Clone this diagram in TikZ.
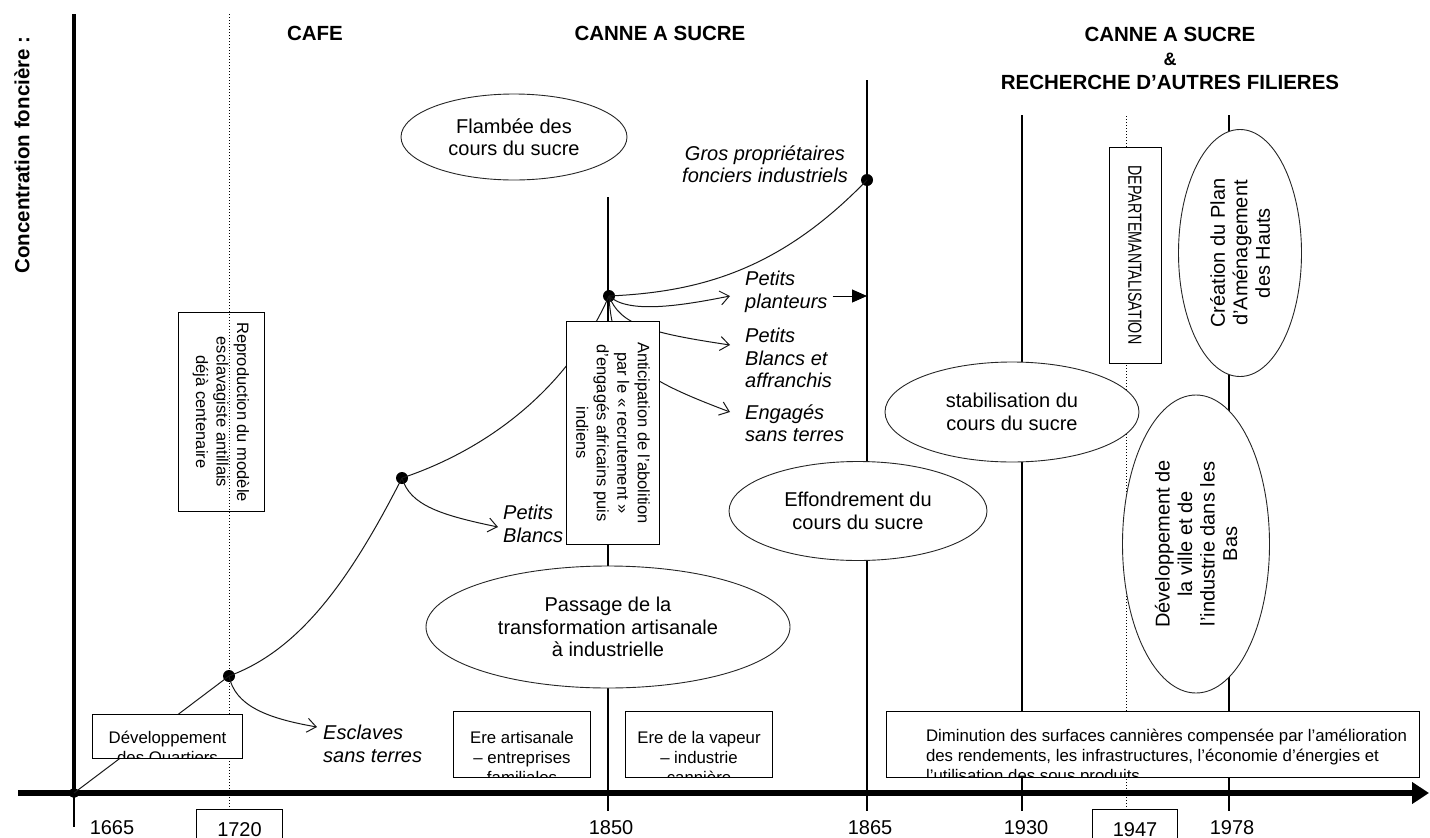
\documentclass[tikz,border=0pt]{standalone}
\usepackage{fontspec}
\setmainfont{Liberation Sans}
\usetikzlibrary{shapes.geometric,arrows.meta}
\begin{document}
\begin{tikzpicture}[x=1pt,y=-1pt,
  body/.style={font=\fontsize{20}{22.5}\selectfont},
  boxfont/.style={font=\fontsize{16.8}{20}\selectfont},
  sidefont/.style={font=\fontsize{16.5}{20.5}\selectfont},
  heading/.style={font=\fontsize{20.5}{24}\selectfont\bfseries, align=center, inner sep=0},
  oval/.style={ellipse, draw=black!85, line width=0.9pt, fill=white, inner sep=0, align=center, body},
  frame/.style={draw, line width=1pt, inner sep=0},
  outcome/.style={font=\fontsize{20}{22.5}\selectfont\itshape, align=left, inner sep=0, anchor=west},
  period/.style={line width=1.3pt},
  marked/.style={line width=1pt, dash pattern=on 1pt off 2pt},
  trend/.style={line width=1pt, black!90},
  branch/.style={trend, -{Straight Barb[length=9pt, width=14pt, line width=1pt]}},
  marker/.style={circle, fill, inner sep=0, minimum size=12pt},
  year/.style={body, inner sep=0},
]
\useasboundingbox (0,0) rectangle (1430,838);

% ---- axes ----
\coordinate (xstart) at (18,793);
\coordinate (xend) at (1429,793);
\coordinate (ytop) at (74,14);
\coordinate (ybot) at (74,796);
\coordinate (tick1665) at (74,827);
\draw[line width=5.5pt, -{Triangle[length=17pt,width=21pt]}] (xstart) -- (xend);
\draw[line width=4.5pt] (ytop) -- (ybot);
\draw[period] (ybot) -- (tick1665);

% ---- year labels ----
\node[year] (y1665) at (112,828) {1665};
\node[frame, year, anchor=north west, minimum width=86, minimum height=40] (box1720) at (196,809) {1720};
\node[year] (y1850) at (611,828) {1850};
\node[year] (y1865) at (870,828) {1865};
\node[year] (y1930) at (1026,828) {1930};
\node[frame, year, anchor=north west, minimum width=85, minimum height=40] (box1947) at (1092,809) {1947};
\node[year] (y1978) at (1232,828) {1978};

% ---- period lines ----
\coordinate (t1720) at (229,14);
\coordinate (t1850) at (608,197);  \coordinate (b1850) at (608,811);
\coordinate (t1865) at (867,80);   \coordinate (b1865) at (867,811);
\coordinate (t1930) at (1022,115); \coordinate (b1930) at (1022,811);
\coordinate (t1947) at (1126,116);
\coordinate (t1978) at (1229,115); \coordinate (b1978) at (1229,811);
\draw[marked] (t1720) -- (t1720 |- box1720.north);
\draw[marked] (t1947) -- (t1947 |- box1947.north);
\draw[period] (t1850) -- (b1850);
\draw[period] (t1865) -- (b1865);
\draw[period] (t1930) -- (b1930);
\draw[period] (t1978) -- (b1978);

% ---- headings ----
\node[heading] (cafe) at (315,33) {CAFE};
\node[heading] (canne) at (660,33) {CANNE A SUCRE};
\node[heading] (canne2) at (1170,58) {CANNE A SUCRE\\{\fontsize{18}{24}\selectfont\&}\\RECHERCHE D’AUTRES FILIERES};
\node[heading, rotate=90] (ylab) at (22,155) {Concentration foncière :};

% ---- trajectory points ----
\node[marker, minimum size=10pt] (m1665) at (74,793) {};
\node[marker] (m1720) at (229,676) {};
\node[marker] (m1790) at (402,478) {};
\node[marker] (m1850) at (609,296) {};
\node[marker] (m1865) at (867,180) {};

% ---- trajectory ----
\draw[trend] (m1665.center) -- (m1720.center);
\draw[trend] (m1720.center) .. controls (300,650) and (350,580) .. (m1790.center);
\draw[trend] (m1790.center) .. controls (480,452) and (565,395) .. (m1850.center);
\draw[trend] (m1850.center) .. controls (700,292) and (780,270) .. (m1865.center);

% ---- branches ----
\coordinate (tipEsc) at (317,727);
\coordinate (tipPB) at (498,527);
\coordinate (tipPl) at (730,296);
\coordinate (tipBA) at (730,345);
\coordinate (tipEng) at (730,412);
\draw[branch] (m1720.center) .. controls (235,705) and (265,718) .. (tipEsc);
\draw[branch] (m1790.center) .. controls (410,505) and (440,515) .. (tipPB);
\draw[branch] (m1850.center) .. controls (628,314) and (680,306) .. (tipPl);
\draw[branch] (m1850.center) .. controls (620,325) and (650,333) .. (tipBA);
\draw[branch] (m1850.center) .. controls (612,360) and (640,378) .. (tipEng);

% ---- outcomes ----
\node[outcome] (esclaves) at (323,744) {Esclaves\\sans terres};
\node[outcome] (pblancs) at (503,524) {Petits\\Blancs};
\node[outcome] (planteurs) at (745,292) {Petits\\planteurs};
\node[outcome] (blancsaff) at (745,358) {Petits\\Blancs et\\affranchis};
\node[outcome] (engages) at (745,423) {Engagés\\sans terres};
\node[outcome, anchor=center, align=center] (gros) at (765,164) {Gros propriétaires\\fonciers industriels};
\coordinate (arr1865) at (867,296);
\draw[line width=1pt, -{Triangle[length=15pt,width=13pt]}] ([xshift=5pt]planteurs.east |- arr1865) -- (arr1865);

% ---- ellipses ----
\node[oval, minimum width=226, minimum height=86] (flambee) at (514,137) {Flambée des\\cours du sucre};
\node[oval, minimum width=364, minimum height=122] (passage) at (608,627) {Passage de la\\transformation artisanale\\à industrielle};
\node[oval, minimum width=258, minimum height=99] (effond) at (858,511) {Effondrement du\\cours du sucre};
\node[oval, minimum width=254, minimum height=100] (stabil) at (1012,412) {stabilisation du\\cours du sucre};
\node[oval, rotate=90, minimum width=298, minimum height=147] (ville) at (1196,544) {Développement de\\la ville et de\\l'industrie dans les\\Bas};
\node[oval, rotate=90, minimum width=247, minimum height=123] (plan) at (1240,253) {Création du Plan\\d'Aménagement\\des Hauts};

% ---- upright frames with rotated text ----
\node[frame, sidefont, rotate=-90, align=center, minimum width=199, minimum height=86] (repro) at (221,412)
  {Reproduction du modèle\\esclavagiste antillais\\déjà centenaire};
\node[frame, fill=white, sidefont, rotate=-90, align=center, minimum width=223, minimum height=93] (antic) at (613,433)
  {Anticipation de l'abolition\\par le « recrutement »\\d'engagés africains puis\\indiens};
\node[frame, fill=white, rotate=-90, minimum width=216, minimum height=52, font=\fontsize{19}{22}\selectfont] (dept) at (1135,255)
  {\scalebox{0.75}[1]{DEPARTEMANTALISATION}};

% ---- bottom frames (text cut by the frame) ----
\node[frame, fill=white, anchor=north west, minimum width=150, minimum height=44,
  path picture={\node[boxfont, align=center, inner sep=0, anchor=north]
    at ([yshift=-12pt]path picture bounding box.north) {Développement\\des Quartiers};}]
  (quartiers) at (92,714) {};
\node[frame, fill=white, anchor=north west, minimum width=137, minimum height=66,
  path picture={\node[boxfont, align=center, inner sep=0, anchor=north]
    at ([yshift=-12pt]path picture bounding box.north) {Ere artisanale\\– entreprises\\familiales};}]
  (artisanale) at (453,711) {};
\node[frame, fill=white, anchor=north west, minimum width=147, minimum height=66,
  path picture={\node[boxfont, align=center, inner sep=0, anchor=north]
    at ([yshift=-12pt]path picture bounding box.north) {Ere de la vapeur\\– industrie\\cannière};}]
  (vapeur) at (625,711) {};
\node[frame, fill=white, anchor=north west, minimum width=533, minimum height=66,
  path picture={\node[boxfont, align=left, inner sep=0, anchor=north west]
    at ([xshift=13pt,yshift=-12pt]path picture bounding box.north west)
    {Diminution des surfaces cannières compensée par l'amélioration\\des rendements, les infrastructures, l'économie d'énergies et\\l'utilisation des sous produits};}]
  (diminution) at (886,711) {};

\end{tikzpicture}
\end{document}
